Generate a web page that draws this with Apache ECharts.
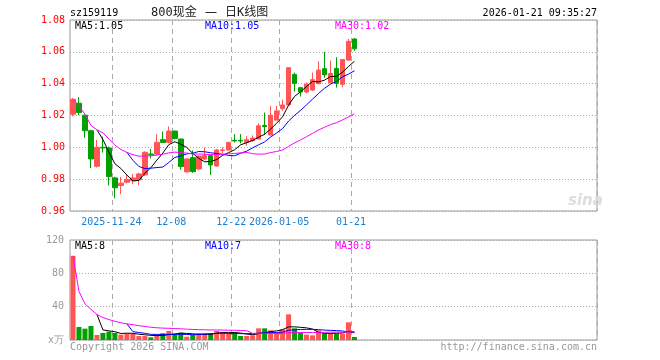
<!DOCTYPE html>
<html><head><meta charset="utf-8">
<script src="https://cdn.jsdelivr.net/npm/echarts@6/dist/echarts.min.js"></script>
<style>html,body{margin:0;padding:0;background:#fff}#c{width:660px;height:360px}</style>
</head><body><div id="c"></div>
<script>
const dates = ['2025-11-13','2025-11-14','2025-11-17','2025-11-18','2025-11-19','2025-11-20','2025-11-21','2025-11-24','2025-11-25','2025-11-26','2025-11-27','2025-11-28','2025-12-01','2025-12-02','2025-12-03','2025-12-04','2025-12-05','2025-12-08','2025-12-09','2025-12-10','2025-12-11','2025-12-12','2025-12-15','2025-12-16','2025-12-17','2025-12-18','2025-12-19','2025-12-22','2025-12-23','2025-12-24','2025-12-25','2025-12-26','2025-12-29','2025-12-30','2025-12-31','2026-01-05','2026-01-06','2026-01-07','2026-01-08','2026-01-09','2026-01-12','2026-01-13','2026-01-14','2026-01-15','2026-01-16','2026-01-19','2026-01-20','2026-01-21'];
const openP  = [1.0208,1.0277,1.0202,1.0104,0.9881,1.0000,0.9996,0.9808,0.9760,0.9781,0.9792,0.9796,0.9827,0.9958,0.9958,1.0048,1.0031,1.0102,1.0052,0.9846,0.9935,0.9864,0.9927,0.9948,0.9883,0.9980,0.9983,1.0044,1.0044,1.0031,1.0042,1.0052,1.0138,1.0077,1.0171,1.0244,1.0266,1.0458,1.0375,1.0348,1.0360,1.0400,1.0494,1.0406,1.0496,1.0396,1.0548,1.0681];
const closeP = [1.0302,1.0219,1.0104,0.9927,1.0000,0.9996,0.9816,0.9746,0.9775,0.9798,0.9808,0.9833,0.9969,0.9954,1.0031,1.0031,1.0102,1.0056,0.9879,0.9927,0.9848,0.9945,0.9948,0.9889,0.9983,0.9984,1.0031,1.0040,1.0040,1.0048,1.0058,1.0135,1.0130,1.0202,1.0229,1.0266,1.0500,1.0402,1.0348,1.0396,1.0425,1.0485,1.0456,1.0464,1.0402,1.0552,1.0666,1.0619];
const lowP   = [1.0195,1.0202,1.0060,0.9870,0.9873,0.9967,0.9760,0.9680,0.9706,0.9775,0.9770,0.9762,0.9820,0.9930,0.9950,1.0031,1.0025,1.0050,0.9860,0.9840,0.9840,0.9855,0.9920,0.9827,0.9878,0.9965,0.9980,1.0031,1.0025,1.0010,1.0035,1.0050,1.0077,1.0077,1.0171,1.0229,1.0266,1.0350,1.0319,1.0340,1.0355,1.0396,1.0437,1.0400,1.0375,1.0377,1.0545,1.0606];
const highP  = [1.0310,1.0316,1.0205,1.0110,1.0047,1.0067,1.0005,0.9815,0.9815,0.9827,0.9833,0.9840,0.9975,0.9990,1.0083,1.0100,1.0131,1.0105,1.0055,0.9930,0.9980,0.9950,1.0000,0.9950,0.9990,1.0000,1.0035,1.0083,1.0083,1.0070,1.0075,1.0150,1.0219,1.0260,1.0260,1.0300,1.0504,1.0469,1.0378,1.0408,1.0470,1.0540,1.0600,1.0545,1.0566,1.0555,1.0681,1.0685];
const volume = [101,15.6,13.6,16.8,6,8.4,10,8.4,6.4,7.6,7.6,4.8,4.8,3.2,6,8,10.8,7.6,8.8,4,6,8,8,8,10.8,9.6,7.6,8.8,4.8,4.8,5.6,14,14,11.6,9.6,12.8,30.8,14,8.8,6.4,5.6,11.6,8,7.6,7.6,7.6,21.2,3.6];
const tickDates  = ['2025-11-24','2025-12-08','2025-12-22','2026-01-05','2026-01-21'];
const tickLabels = ['2025-11-24','12-08','12-22','2026-01-05','01-21'];
const priceTicks = [0.96,0.98,1.00,1.02,1.04,1.06,1.08];
const volTicks = [0,40,80,120];
const totalSlots = 88;

const RED = '#ff5555', GREEN = '#00a000';
const MONO = '"DejaVu Sans Mono", "Liberation Mono", monospace';
const cats = dates.slice();
for (let i = dates.length; i < totalSlots; i++) cats.push('_' + i);

function ma(arr, n, cumulative) {
  return arr.map((_, i) => {
    if (i < n - 1 && !cumulative) return null;
    const s = Math.max(0, i - n + 1);
    let sum = 0; for (let k = s; k <= i; k++) sum += arr[k];
    return +(sum / (i - s + 1)).toFixed(4);
  });
}
const kData = dates.map((d, i) => [openP[i], closeP[i], lowP[i], highP[i]]);
const volData = volume.map((v, i) => ({value: v, itemStyle: {color: closeP[i] >= openP[i] ? RED : GREEN}}));
const isTick = (idx, val) => tickDates.indexOf(cats[idx]) >= 0;

const chart = echarts.init(document.getElementById('c'), null, {renderer: 'canvas'});
const lineS = (name, data, color, xi, yi) => ({
  type: 'line', name, data, xAxisIndex: xi, yAxisIndex: yi, showSymbol: false, symbol: 'none',
  lineStyle: {width: 1, color}, itemStyle: {color}, z: 5, silent: true
});
const txt = (text, x, y, fill, align, font) => ({type: 'text', silent: true, z: 100, style: {text, x, y, fill, font: font || ('10px ' + MONO), textAlign: align || 'left', textVerticalAlign: 'middle'}});
const TFONT = '12px "DejaVu Sans Mono", "Noto Sans CJK SC"';

chart.setOption({
  animation: false,
  backgroundColor: '#fff',
  grid: [
    {left: 70, top: 20, width: 527, height: 191, show: true, borderColor: '#999', borderWidth: 1},
    {left: 70, top: 240, width: 527, height: 100, show: true, borderColor: '#999', borderWidth: 1}
  ],
  xAxis: [
    {type: 'category', data: cats, gridIndex: 0, boundaryGap: true,
     axisLine: {show: false}, axisTick: {show: false},
     axisLabel: {interval: isTick, color: '#1a7fd4', fontFamily: MONO, fontSize: 10, margin: 6, padding: [0, 7, 0, 0],
       formatter: (v) => { const k = tickDates.indexOf(v); return k >= 0 ? tickLabels[k] : ''; }},
     splitLine: {show: true, interval: isTick, lineStyle: {color: '#aaa', type: [5, 4], width: 1}}},
    {type: 'category', data: cats, gridIndex: 1, boundaryGap: true,
     axisLine: {show: false}, axisTick: {show: false}, axisLabel: {show: false},
     splitLine: {show: true, interval: isTick, lineStyle: {color: '#aaa', type: [5, 4], width: 1}}}
  ],
  yAxis: [
    {type: 'value', gridIndex: 0, min: priceTicks[0], max: priceTicks[priceTicks.length - 1], interval: 0.02,
     axisLine: {show: false}, axisTick: {show: false},
     axisLabel: {color: '#ff0000', fontFamily: MONO, fontSize: 10, margin: 5, formatter: v => v.toFixed(2)},
     splitLine: {show: true, lineStyle: {color: '#aaa', type: [1, 2], width: 1}}},
    {type: 'value', gridIndex: 1, min: volTicks[0], max: volTicks[volTicks.length - 1], interval: 40,
     axisLine: {show: false}, axisTick: {show: false},
     axisLabel: {color: '#999', fontFamily: MONO, fontSize: 10, margin: 6, formatter: v => v === 0 ? 'x万' : String(v)},
     splitLine: {show: true, lineStyle: {color: '#aaa', type: [1, 2], width: 1}}}
  ],
  series: [
    {type: 'candlestick', data: kData, xAxisIndex: 0, yAxisIndex: 0, barWidth: 5, z: 3,
     itemStyle: {color: RED, color0: GREEN, borderColor: RED, borderColor0: GREEN, borderWidth: 1}},
    lineS('MA5', ma(closeP, 5, false), '#000000', 0, 0),
    lineS('MA10', ma(closeP, 10, false), '#0000ff', 0, 0),
    lineS('MA30', ma(closeP, 30, true), '#ff00ff', 0, 0),
    {type: 'bar', data: volData, xAxisIndex: 1, yAxisIndex: 1, barWidth: 5, z: 3},
    lineS('VMA5', ma(volume, 5, false), '#000000', 1, 1),
    lineS('VMA10', ma(volume, 10, false), '#0000ff', 1, 1),
    lineS('VMA30', ma(volume, 30, true), '#ff00ff', 1, 1)
  ],
  graphic: [
    txt('sz159119', 70, 13, '#000'),
    txt('800现金', 151, 13, '#222', 'left', TFONT),
    txt('一', 205, 13, '#222', 'left', '12px "Noto Sans CJK SC"'),
    txt('日K线图', 225, 13, '#222', 'left', TFONT),
    txt('2026-01-21 09:35:27', 597, 13, '#000', 'right'),
    txt('MA5:1.05', 75, 26, '#000'),
    txt('MA10:1.05', 205, 26, '#0000ff'),
    txt('MA30:1.02', 335, 26, '#ff00ff'),
    txt('MA5:8', 75, 246, '#000'),
    txt('MA10:7', 205, 246, '#0000ff'),
    txt('MA30:8', 335, 246, '#ff00ff'),
    txt('Copyright 2026 SINA.COM', 70, 347, '#999'),
    txt('http://finance.sina.com.cn', 597, 347, '#999', 'right'),
    {type: 'text', silent: true, z: 1, style: {text: 'sina', x: 568, y: 201, fill: '#dddddd', font: 'italic bold 15px "DejaVu Sans"', textVerticalAlign: 'middle'}}
  ]
});
</script></body></html>
